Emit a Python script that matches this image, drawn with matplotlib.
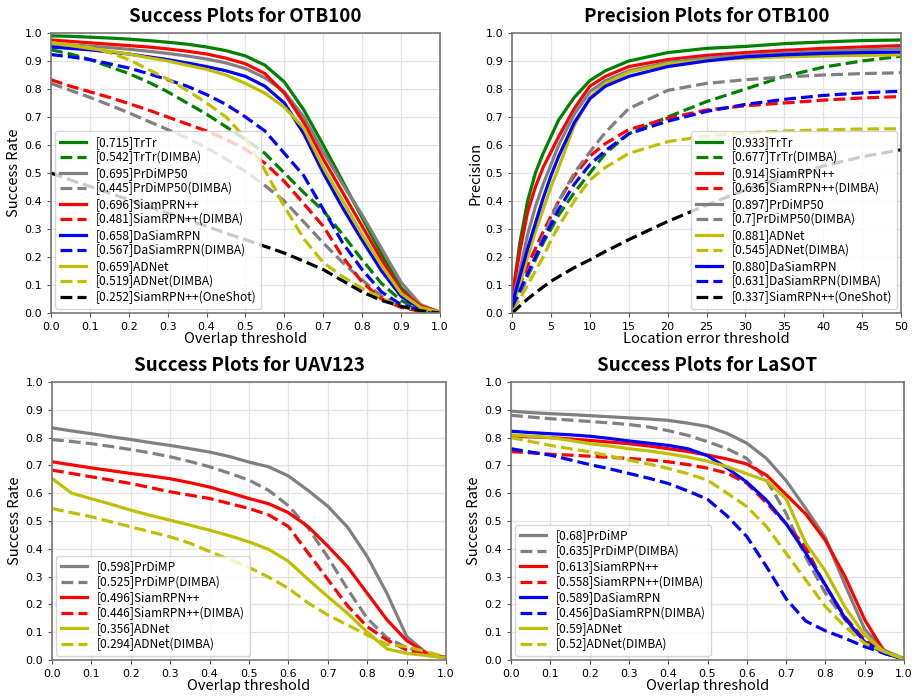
import numpy as np
import matplotlib
matplotlib.use("Agg")
import matplotlib.pyplot as plt

# ---- data ----
iou_x = [0.0, 0.05, 0.1, 0.15, 0.2, 0.25, 0.3, 0.35, 0.4, 0.45, 0.5,
         0.55, 0.6, 0.65, 0.7, 0.75, 0.8, 0.85, 0.9, 0.95, 1.0]
err_x = [0, 1, 2, 3, 4, 5, 6, 8, 10, 12, 15, 20, 25, 30, 35, 40, 45, 50]

# OTB100 success
otb_trtr = [.99, .988, .985, .982, .978, .973, .967, .96, .95, .937, .918, .885, .825, .725, .6, .47, .34, .21, .09, .025, .003]
otb_trtr_d = [.94, .925, .905, .88, .855, .825, .79, .75, .71, .665, .62, .57, .5, .43, .365, .28, .19, .105, .045, .012, 0]
otb_prdimp = [.96, .957, .953, .948, .942, .935, .927, .918, .907, .893, .873, .84, .79, .7, .575, .46, .35, .23, .11, .03, .003]
otb_prdimp_d = [.82, .795, .77, .743, .715, .685, .655, .625, .59, .55, .505, .455, .4, .325, .25, .18, .118, .06, .025, .008, 0]
otb_siam = [.975, .97, .965, .96, .955, .95, .943, .935, .925, .91, .89, .855, .785, .68, .55, .43, .31, .19, .08, .025, .003]
otb_siam_d = [.833, .81, .79, .77, .748, .725, .70, .675, .65, .62, .585, .535, .47, .39, .31, .2, .11, .05, .02, .006, 0]
otb_dasiam = [.95, .945, .94, .932, .925, .915, .905, .893, .88, .865, .845, .81, .75, .64, .5, .375, .26, .15, .06, .015, .002]
otb_dasiam_d = [.923, .915, .905, .89, .875, .855, .833, .81, .78, .745, .70, .65, .57, .49, .37, .25, .155, .075, .03, .01, 0]
otb_adnet = [.965, .955, .945, .935, .925, .912, .9, .885, .87, .85, .82, .785, .735, .66, .52, .4, .28, .17, .07, .02, .003]
otb_adnet_d = [.965, .958, .948, .93, .905, .87, .835, .795, .75, .7, .625, .51, .38, .265, .18, .13, .088, .053, .024, .008, 0]
otb_oneshot = [.5, .475, .452, .428, .405, .38, .357, .333, .31, .285, .262, .238, .214, .185, .155, .115, .075, .045, .024, .008, 0]

# OTB100 precision
pre_trtr = [.05, .25, .40, .5, .57, .63, .69, .77, .83, .865, .9, .93, .945, .952, .962, .968, .973, .975]
pre_trtr_d = [.02, .07, .13, .19, .25, .3, .35, .43, .5, .57, .64, .7, .755, .8, .845, .878, .9, .917]
pre_siam = [.06, .22, .36, .45, .52, .575, .63, .73, .81, .845, .88, .905, .92, .93, .938, .945, .95, .955]
pre_siam_d = [.03, .1, .17, .23, .29, .345, .4, .49, .56, .605, .655, .695, .725, .74, .75, .76, .768, .773]
pre_prdimp = [.03, .15, .28, .38, .46, .53, .6, .71, .79, .83, .865, .895, .91, .92, .928, .935, .94, .945]
pre_prdimp_d = [.02, .07, .13, .2, .27, .335, .4, .5, .575, .645, .73, .795, .82, .833, .843, .85, .855, .858]
pre_adnet = [.02, .1, .2, .29, .37, .45, .52, .67, .77, .82, .86, .89, .903, .91, .915, .918, .92, .922]
pre_adnet_d = [.01, .05, .1, .15, .2, .26, .31, .4, .475, .52, .57, .612, .632, .643, .65, .654, .657, .658]
pre_dasiam = [.03, .13, .23, .32, .41, .49, .56, .68, .765, .81, .845, .88, .9, .915, .922, .927, .93, .932]
pre_dasiam_d = [.02, .08, .14, .2, .26, .315, .37, .46, .53, .58, .64, .685, .72, .745, .763, .777, .786, .792]
pre_oneshot = [0, .025, .05, .072, .093, .113, .13, .162, .19, .22, .262, .327, .385, .44, .485, .525, .558, .583]

# UAV123 success
uav_prdimp = [.835, .824, .814, .803, .793, .782, .772, .76, .748, .732, .712, .695, .662, .61, .553, .478, .372, .24, .085, .025, .008]
uav_prdimp_d = [.793, .786, .778, .768, .757, .745, .731, .714, .695, .672, .647, .61, .555, .475, .37, .255, .15, .08, .045, .025, .01]
uav_siam = [.713, .702, .691, .681, .671, .662, .652, .638, .622, .602, .581, .562, .53, .48, .41, .335, .24, .145, .07, .025, .008]
uav_siam_d = [.683, .671, .659, .647, .635, .62, .605, .593, .581, .563, .545, .522, .48, .385, .29, .195, .12, .072, .036, .018, .008]
uav_adnet = [.653, .6, .58, .56, .539, .52, .503, .485, .467, .447, .425, .398, .355, .29, .228, .168, .1, .04, .024, .016, .008]
uav_adnet_d = [.545, .53, .515, .497, .479, .461, .443, .42, .39, .362, .333, .298, .258, .205, .162, .126, .09, .056, .048, .03, .01]

# LaSOT success
las_prdimp = [.895, .89, .886, .883, .879, .875, .871, .867, .862, .852, .84, .815, .78, .725, .645, .545, .44, .27, .11, .035, .005]
las_prdimp_d = [.88, .874, .868, .863, .858, .853, .847, .838, .825, .808, .785, .76, .725, .647, .527, .37, .24, .144, .06, .025, .005]
las_siam = [.805, .803, .8, .795, .79, .784, .778, .77, .76, .75, .737, .723, .705, .665, .595, .525, .43, .3, .145, .03, .003]
las_siam_d = [.75, .745, .74, .737, .733, .729, .725, .72, .713, .703, .69, .672, .636, .565, .49, .405, .265, .155, .072, .024, .003]
las_dasiam = [.823, .818, .814, .81, .805, .797, .788, .78, .772, .76, .735, .69, .64, .575, .49, .385, .27, .15, .065, .024, .003]
las_dasiam_d = [.76, .748, .737, .72, .703, .688, .671, .654, .635, .608, .578, .518, .444, .336, .22, .14, .105, .078, .048, .024, .003]
las_adnet = [.81, .805, .8, .79, .778, .77, .76, .752, .742, .73, .715, .695, .67, .645, .58, .42, .32, .19, .09, .03, .003]
las_adnet_d = [.8, .786, .772, .76, .749, .734, .719, .705, .689, .67, .647, .6, .552, .48, .384, .288, .192, .12, .06, .03, .005]

panels = [
    dict(rect=[0.0557, 0.5522, 0.4246, 0.4006], title="Success Plots for OTB100",
         x=iou_x, xlabel="Overlap threshold", ylabel="Success Rate", loc="lower left",
         curves=[("[0.715]TrTr", otb_trtr, "g", "-"),
                 ("[0.542]TrTr(DIMBA)", otb_trtr_d, "g", "--"),
                 ("[0.695]PrDiMP50", otb_prdimp, "gray", "-"),
                 ("[0.445]PrDiMP50(DIMBA)", otb_prdimp_d, "gray", "--"),
                 ("[0.696]SiamPRN++", otb_siam, "r", "-"),
                 ("[0.481]SiamRPN++(DIMBA)", otb_siam_d, "r", "--"),
                 ("[0.658]DaSiamRPN", otb_dasiam, "b", "-"),
                 ("[0.567]DaSiamRPN(DIMBA)", otb_dasiam_d, "b", "--"),
                 ("[0.659]ADNet", otb_adnet, "y", "-"),
                 ("[0.519]ADNet(DIMBA)", otb_adnet_d, "y", "--"),
                 ("[0.252]SiamRPN++(OneShot)", otb_oneshot, "k", "--")]),
    dict(rect=[0.5590, 0.5522, 0.4246, 0.4006], title="Precision Plots for OTB100",
         x=err_x, xlabel="Location error threshold", ylabel="Precision", loc="lower right",
         curves=[("[0.933]TrTr", pre_trtr, "g", "-"),
                 ("[0.677]TrTr(DIMBA)", pre_trtr_d, "g", "--"),
                 ("[0.914]SiamRPN++", pre_siam, "r", "-"),
                 ("[0.636]SiamRPN++(DIMBA)", pre_siam_d, "r", "--"),
                 ("[0.897]PrDiMP50", pre_prdimp, "gray", "-"),
                 ("[0.7]PrDiMP50(DIMBA)", pre_prdimp_d, "gray", "--"),
                 ("[0.881]ADNet", pre_adnet, "y", "-"),
                 ("[0.545]ADNet(DIMBA)", pre_adnet_d, "y", "--"),
                 ("[0.880]DaSiamRPN", pre_dasiam, "b", "-"),
                 ("[0.631]DaSiamRPN(DIMBA)", pre_dasiam_d, "b", "--"),
                 ("[0.337]SiamRPN++(OneShot)", pre_oneshot, "k", "--")]),
    dict(rect=[0.0568, 0.0558, 0.4301, 0.3977], title="Success Plots for UAV123",
         x=iou_x, xlabel="Overlap threshold", ylabel="Success Rate", loc="lower left",
         curves=[("[0.598]PrDiMP", uav_prdimp, "gray", "-"),
                 ("[0.525]PrDiMP(DIMBA)", uav_prdimp_d, "gray", "--"),
                 ("[0.496]SiamRPN++", uav_siam, "r", "-"),
                 ("[0.446]SiamRPN++(DIMBA)", uav_siam_d, "r", "--"),
                 ("[0.356]ADNet", uav_adnet, "y", "-"),
                 ("[0.294]ADNet(DIMBA)", uav_adnet_d, "y", "--")]),
    dict(rect=[0.5579, 0.0558, 0.4290, 0.3977], title="Success Plots for LaSOT",
         x=iou_x, xlabel="Overlap threshold", ylabel="Success Rate", loc="lower left",
         curves=[("[0.68]PrDiMP", las_prdimp, "gray", "-"),
                 ("[0.635]PrDiMP(DIMBA)", las_prdimp_d, "gray", "--"),
                 ("[0.613]SiamRPN++", las_siam, "r", "-"),
                 ("[0.558]SiamRPN++(DIMBA)", las_siam_d, "r", "--"),
                 ("[0.589]DaSiamRPN", las_dasiam, "b", "-"),
                 ("[0.456]DaSiamRPN(DIMBA)", las_dasiam_d, "b", "--"),
                 ("[0.59]ADNet", las_adnet, "y", "-"),
                 ("[0.52]ADNet(DIMBA)", las_adnet_d, "y", "--")]),
]

cjk = ["Noto Sans CJK SC", "DejaVu Sans"]

fig = plt.figure(figsize=(9.16, 6.99), dpi=100)

for p in panels:
    ax = fig.add_axes(p["rect"])
    for label, vals, col, ls in p["curves"]:
        ax.plot(p["x"], vals, color=col, linestyle=ls, linewidth=2.3, label=label)
    xmax = p["x"][-1]
    ax.set_xlim(0, xmax)
    ax.set_ylim(0, 1)
    if xmax > 1:
        ax.set_xticks(np.arange(0, 51, 5))
    else:
        ax.set_xticks(np.round(np.arange(0, 1.01, 0.1), 1))
    ax.set_yticks(np.round(np.arange(0, 1.01, 0.1), 1))
    ax.tick_params(labelsize=8, length=3, color="#555555")
    ax.grid(True, color="#e3e3e3", linewidth=0.9)
    ax.set_axisbelow(True)
    for s in ax.spines.values():
        s.set_color("#777777")
        s.set_linewidth(1.2)
    ax.set_title(p["title"], fontsize=13.5, fontweight="bold", pad=8, family=cjk)
    ax.set_xlabel(p["xlabel"], fontsize=10.5, labelpad=0, family=cjk)
    ax.set_ylabel(p["ylabel"], fontsize=10.5, labelpad=2, family=cjk)
    ax.legend(loc=p["loc"], prop={"family": cjk, "size": 8.6}, labelspacing=0.2,
              handlelength=2.2, borderaxespad=0.35, framealpha=0.8, edgecolor="#cccccc")

fig.savefig("out.png", dpi=100)
